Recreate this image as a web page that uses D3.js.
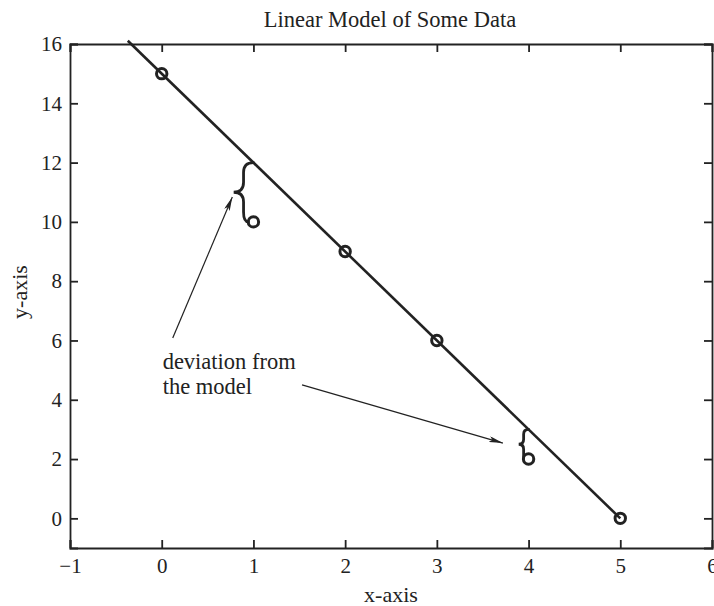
<!DOCTYPE html>
<html><head><meta charset="utf-8">
<script src="https://cdn.jsdelivr.net/npm/d3@7"></script>
<style>html,body{margin:0;padding:0;background:#fff;}svg{display:block;}</style>
</head><body>
<script>
// Data
const xData = [0, 1, 2, 3, 4, 5];
const yData = [15, 10, 9, 6, 2, 0];
const modelIntercept = 15;
const modelSlope = -3;
const modelXRange = [-0.37, 5];
const xTicks = [-1, 0, 1, 2, 3, 4, 5, 6];
const yTicks = [0, 2, 4, 6, 8, 10, 12, 14, 16];
const deviationX = [1, 4];
const deviationModelY = [12, 3];
const deviationDataY = [10, 2];
const annotationLines = ["deviation from", "the model"];
const annotationPos = [0.01, 5.05];
const arrowStarts = [[0.12, 6.08], [1.53, 4.5]];
const arrowEnds = [[0.77, 10.84], [3.72, 2.54]];

const W = 714, H = 606;
const m = {left: 70, right: 2, top: 44, bottom: 58};
const ink = "#222";
const font = "'Liberation Serif', 'Times New Roman', serif";

const svg = d3.select("body").append("svg").attr("width", W).attr("height", H);
const x = d3.scaleLinear().domain([-1, 6]).range([m.left, W - m.right]);
const y = d3.scaleLinear().domain([-1, 16]).range([H - m.bottom, m.top]);

const defs = svg.append("defs");
defs.append("marker").attr("id", "arr").attr("viewBox", "0 0 14 6")
  .attr("refX", 14).attr("refY", 3).attr("markerWidth", 14).attr("markerHeight", 6)
  .attr("markerUnits", "userSpaceOnUse").attr("orient", "auto")
  .append("path").attr("d", "M0,0 L14,3 L0,6 L3,3 Z").attr("fill", ink);

// Axes with inward ticks on all four sides
const tl = 8;
const axB = svg.append("g").attr("transform", `translate(0,${H - m.bottom})`)
  .call(d3.axisBottom(x).tickValues(xTicks).tickSize(-tl).tickFormat(d => d < 0 ? "\u2212" + Math.abs(d) : d));
const axT = svg.append("g").attr("transform", `translate(0,${m.top})`)
  .call(d3.axisTop(x).tickValues(xTicks).tickSize(-tl).tickFormat(""));
const axL = svg.append("g").attr("transform", `translate(${m.left},0)`)
  .call(d3.axisLeft(y).tickValues(yTicks).tickSize(-tl).tickPadding(8));
const axR = svg.append("g").attr("transform", `translate(${W - m.right},0)`)
  .call(d3.axisRight(y).tickValues(yTicks).tickSize(-tl).tickFormat(""));
[axB, axT, axL, axR].forEach(a => {
  a.select(".domain").attr("stroke", ink).attr("stroke-width", 1.8);
  a.selectAll(".tick line").attr("stroke", ink).attr("stroke-width", 1.8);
  a.selectAll(".tick text").attr("fill", ink).attr("font-family", font).attr("font-size", 21);
});
axB.selectAll(".tick text").attr("y", 25).attr("dy", 0);

// Titles
svg.append("text").attr("x", (m.left + W - m.right) / 2 - 1).attr("y", 27)
  .attr("text-anchor", "middle").attr("font-family", font).attr("font-size", 22.5).attr("fill", ink)
  .text("Linear Model of Some Data");
svg.append("text").attr("x", (m.left + W - m.right) / 2).attr("y", 602)
  .attr("text-anchor", "middle").attr("font-family", font).attr("font-size", 22).attr("fill", ink)
  .text("x-axis");
svg.append("text").attr("transform", `translate(27,${(m.top + H - m.bottom) / 2 - 4}) rotate(-90)`)
  .attr("text-anchor", "middle").attr("font-family", font).attr("font-size", 22).attr("fill", ink)
  .text("y-axis");

// Model line
const line = d3.line().x(d => x(d)).y(d => y(modelIntercept + modelSlope * d));
svg.append("path").attr("d", line(modelXRange)).attr("fill", "none")
  .attr("stroke", ink).attr("stroke-width", 2.6);

// Data points
svg.selectAll("circle.pt").data(xData).join("circle").attr("class", "pt")
  .attr("cx", d => x(d)).attr("cy", (d, i) => y(yData[i])).attr("r", 5.2)
  .attr("fill", "none").attr("stroke", ink).attr("stroke-width", 3);

// Braces
deviationX.forEach((dx, i) => {
  const x0 = x(dx), yT = y(deviationModelY[i]), yB = y(deviationDataY[i]);
  const h = yB - yT, w = h / 6, r = w, yM = (yT + yB) / 2;
  const p = d3.path();
  p.moveTo(x0, yT);
  p.quadraticCurveTo(x0 - w, yT, x0 - w, yT + r);
  p.lineTo(x0 - w, yM - r);
  p.quadraticCurveTo(x0 - w, yM, x0 - 2 * w, yM);
  p.quadraticCurveTo(x0 - w, yM, x0 - w, yM + r);
  p.lineTo(x0 - w, yB - r);
  p.quadraticCurveTo(x0 - w, yB, x0 - 5, yB);
  svg.append("path").attr("d", p.toString()).attr("fill", "none")
    .attr("stroke", ink).attr("stroke-width", 2.8).attr("stroke-linecap", "round");
});

// Arrows
arrowStarts.forEach((s, i) => {
  const e = arrowEnds[i];
  svg.append("line").attr("x1", x(s[0])).attr("y1", y(s[1]))
    .attr("x2", x(e[0])).attr("y2", y(e[1]))
    .attr("stroke", ink).attr("stroke-width", 1.2).attr("marker-end", "url(#arr)");
});

// Annotation text
const t = svg.append("text").attr("x", x(annotationPos[0])).attr("y", y(annotationPos[1]))
  .attr("font-family", font).attr("font-size", 22.5).attr("fill", ink);
annotationLines.forEach((s, i) => t.append("tspan").attr("x", x(annotationPos[0]))
  .attr("dy", i === 0 ? 0 : 25).text(s));
</script>
</body></html>
